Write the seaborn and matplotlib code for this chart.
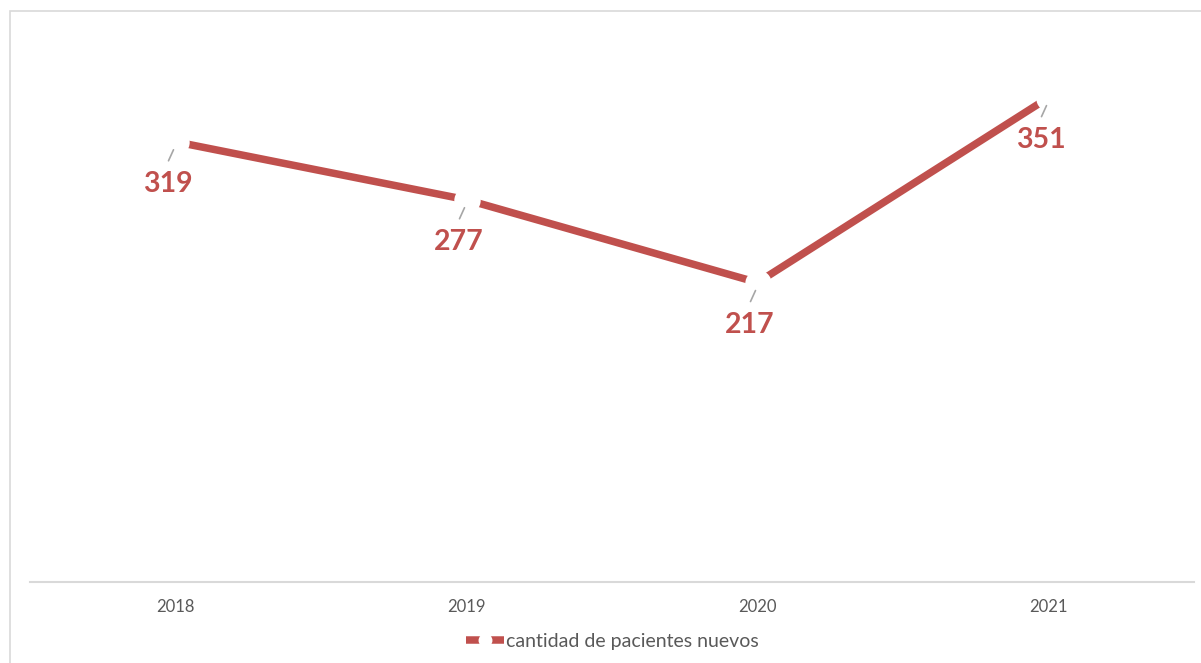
import matplotlib
matplotlib.use("Agg")
import matplotlib.pyplot as plt
import matplotlib.transforms as mtransforms
from matplotlib.lines import Line2D
from matplotlib.patches import Rectangle
import seaborn as sns
import pandas as pd

# Data
anios = ["2018", "2019", "2020", "2021"]
pacientes = [319, 277, 217, 351]
serie = "cantidad de pacientes nuevos"

ROJO = "#C0504D"
GRIS_TXT = "#595959"
GRIS_LINEA = "#D9D9D9"

sns.set_theme(style="white")
plt.rcParams["font.family"] = ["Lato", "DejaVu Sans"]

df = pd.DataFrame({"anio": anios, "pacientes": pacientes})

fig = plt.figure(figsize=(12.01, 6.63), dpi=100)
ax = fig.add_axes([30 / 1201, 1 - 582 / 663, 1164 / 1201, 552 / 663])

# Chart frame
fig.patches.append(Rectangle((10 / 1201, -0.1), 1.2, (663 - 11) / 663 + 0.1,
                             transform=fig.transFigure, fill=False,
                             edgecolor=GRIS_LINEA, linewidth=1.2, zorder=0))

sns.lineplot(data=df, x="anio", y="pacientes", ax=ax, color=ROJO,
             linewidth=5.4, marker="o", markersize=19,
             markerfacecolor="white", markeredgecolor="white",
             markeredgewidth=0, solid_capstyle="butt", sort=False)

ax.set_xlim(-0.5, 3.5)
ax.set_ylim(0, 400)
ax.set_xlabel("")
ax.set_ylabel("")
ax.set_yticks([])
ax.tick_params(axis="x", length=0, pad=12, labelsize=12, labelcolor=GRIS_TXT)
for s in ["top", "left", "right"]:
    ax.spines[s].set_visible(False)
ax.spines["bottom"].set_color(GRIS_LINEA)
ax.spines["bottom"].set_linewidth(1.5)

# Data labels with short leader lines
for i, v in enumerate(pacientes):
    ax.annotate(f"{v}", xy=(i, v), xytext=(-5.8, -30.5),
                textcoords="offset points", ha="center", va="center",
                fontsize=20.5, fontweight="bold", color=ROJO)
    off1 = mtransforms.ScaledTranslation(-7 / 100, -19 / 100, fig.dpi_scale_trans)
    off2 = mtransforms.ScaledTranslation(-2 / 100, -8 / 100, fig.dpi_scale_trans)
    p1 = (ax.transData + off1).transform((i, v))
    p2 = (ax.transData + off2).transform((i, v))
    fig.add_artist(Line2D([p1[0], p2[0]], [p1[1], p2[1]], transform=None,
                          color="#A6A6A6", linewidth=1.2))

# Legend
handle = Line2D([0], [0], color=ROJO, linewidth=5.4, marker="o",
                markersize=10, markerfacecolor="white",
                markeredgecolor="white", markeredgewidth=0,
                solid_capstyle="butt")
fig.legend([handle], [serie], loc="center",
           bbox_to_anchor=(612 / 1201, 1 - 641 / 663), frameon=False,
           fontsize=14, labelcolor=GRIS_TXT, handlelength=1.95,
           handletextpad=0.1)

fig.savefig("out.png", dpi=100, facecolor="white")
